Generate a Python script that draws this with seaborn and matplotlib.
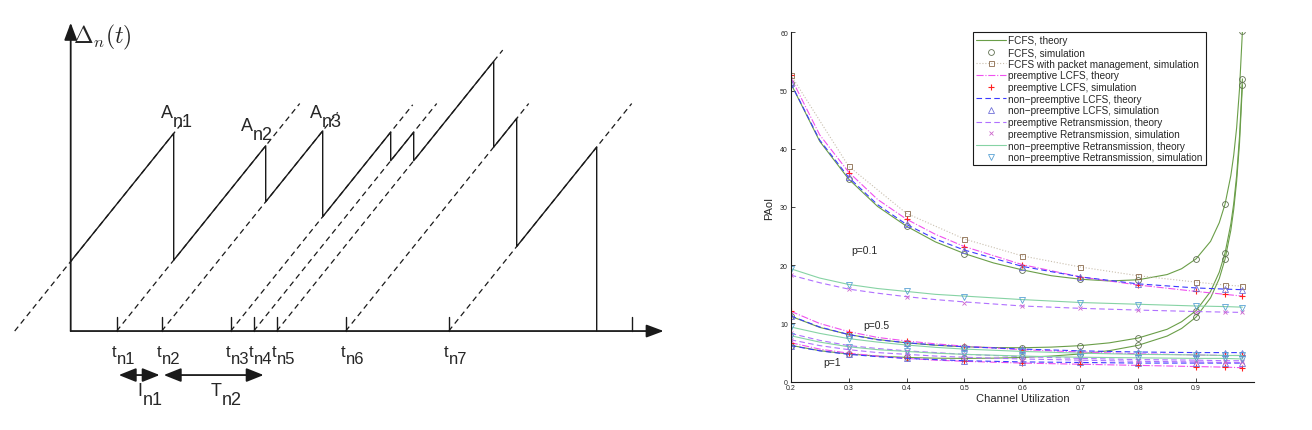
import numpy as np
import pandas as pd
import matplotlib
matplotlib.use("Agg")
import matplotlib.pyplot as plt
import seaborn as sns

# ---------------- left: age sawtooth diagram ----------------
# generation times t_n0..t_n7 (t_n0 lies left of the y-axis) and delivery times
GEN_TIMES = [-56, 46, 91, 160, 183, 206, 275, 378]
DEP_TIMES = [103, 195, 252, 320, 343, 423, 446, 526]
DASH_END = [114, 229, 267, 342, 366, 432, 458, 561]
EXTRA_TICK = 561
GEN_LABELS = ["n1", "n2", "n3", "n4", "n5", "n6", "n7"]
PEAK_LABELS = ["n1", "n2", "n3"]
PEAK_POS = [(90, 183), (170, 172), (239, 183)]

# ---------------- right: PAoI vs channel utilization ----------------
P_VALUES = [0.1, 0.5, 1]
SIM_X = [0.2, 0.3, 0.4, 0.5, 0.6, 0.7, 0.8, 0.9, 0.95, 0.98]
THEORY_X = [0.2, 0.25, 0.3, 0.35, 0.4, 0.45, 0.5, 0.6, 0.7, 0.8, 0.9, 0.95, 0.98]
FCFS_X = [0.2, 0.25, 0.3, 0.35, 0.4, 0.45, 0.5, 0.55, 0.6, 0.65, 0.7, 0.75, 0.8,
          0.85, 0.875, 0.9, 0.925, 0.94, 0.95, 0.96, 0.965, 0.97, 0.975, 0.98]

fcfs_theory = {
    0.1: [51.25, 41.3, 34.8, 30.1, 26.7, 24.0, 22.0, 20.4, 19.2, 18.2, 17.6, 17.3,
          17.5, 18.4, 19.4, 21.1, 24.1, 27.3, 30.5, 35.4, 38.9, 43.6, 50.3, 60.2],
    0.5: [11.25, 9.33, 8.1, 7.25, 6.67, 6.26, 6.0, 5.86, 5.83, 5.94, 6.19, 6.67,
          7.5, 9.0, 10.3, 12.2, 15.5, 18.8, 22.1, 27.1, 30.6, 35.4, 42.1, 52.0],
    1: [6.25, 5.33, 4.76, 4.4, 4.17, 4.04, 4.0, 4.04, 4.17, 4.4, 4.76, 5.33,
        6.25, 7.84, 9.14, 11.1, 14.4, 17.7, 21.05, 26.0, 29.6, 34.4, 41.0, 51.0],
}
fcfs_sim = {
    0.1: [51.3, 34.8, 26.7, 22.0, 19.2, 17.6, 17.5, 21.1, 30.5, 60.2],
    0.5: [11.3, 8.1, 6.7, 6.0, 5.8, 6.2, 7.5, 12.2, 22.1, 52.0],
    1: [6.2, 4.7, 4.2, 4.0, 4.2, 4.8, 6.3, 11.1, 21.1, 51.0],
}
pm_sim = {
    0.1: [52.7, 37.0, 28.9, 24.5, 21.6, 19.7, 18.2, 17.1, 16.6, 16.4],
}
plcfs_theory = {
    0.1: [52.3, 42.4, 36.0, 31.3, 27.9, 25.3, 23.2, 20.1, 18.0, 16.6, 15.5, 15.0, 14.7],
    0.5: [12.1, 10.0, 8.6, 7.6, 7.0, 6.5, 6.1, 5.5, 5.1, 4.8, 4.6, 4.5, 4.5],
    1: [6.7, 5.6, 4.9, 4.4, 4.0, 3.7, 3.5, 3.2, 3.0, 2.8, 2.6, 2.5, 2.4],
}
plcfs_sim = {
    0.1: [52.6, 35.9, 27.9, 23.1, 20.0, 18.0, 16.6, 15.5, 15.0, 14.7],
    0.5: [12.1, 8.6, 7.0, 6.1, 5.5, 5.1, 4.8, 4.6, 4.5, 4.5],
    1: [6.7, 4.9, 4.0, 3.5, 3.2, 3.0, 2.8, 2.6, 2.5, 2.4],
}
nplcfs_theory = {
    0.1: [51.3, 41.5, 35.1, 30.4, 27.0, 24.5, 22.6, 19.8, 18.0, 16.8, 16.1, 15.9, 15.8],
    0.5: [11.3, 9.4, 8.1, 7.2, 6.7, 6.3, 6.0, 5.6, 5.3, 5.1, 5.0, 5.0, 5.0],
    1: [6.2, 5.3, 4.7, 4.3, 4.0, 3.8, 3.6, 3.4, 3.3, 3.2, 3.2, 3.2, 3.2],
}
nplcfs_sim = {
    0.1: [51.3, 35.2, 27.0, 22.6, 19.7, 17.9, 16.8, 16.1, 16.0, 15.8],
    0.5: [11.3, 8.1, 6.7, 6.0, 5.6, 5.3, 5.1, 5.0, 5.0, 5.0],
    1: [6.2, 4.7, 4.0, 3.6, 3.4, 3.3, 3.2, 3.2, 3.2, 3.2],
}
pr_theory = {
    0.1: [18.3, 17.0, 15.9, 15.2, 14.6, 14.1, 13.7, 13.0, 12.6, 12.3, 12.05, 11.95, 11.9],
    0.5: [8.3, 7.1, 6.2, 5.7, 5.3, 5.0, 4.7, 4.3, 4.0, 3.8, 3.7, 3.6, 3.6],
    1: [7.2, 6.2, 5.5, 5.0, 4.7, 4.4, 4.2, 3.9, 3.7, 3.5, 3.4, 3.3, 3.3],
}
pr_sim = {
    0.1: [18.3, 15.9, 14.6, 13.6, 13.0, 12.6, 12.3, 12.05, 11.9, 11.9],
    0.5: [8.3, 6.2, 5.3, 4.7, 4.3, 4.0, 3.8, 3.7, 3.6, 3.6],
    1: [7.2, 5.5, 4.7, 4.2, 3.9, 3.7, 3.5, 3.4, 3.3, 3.3],
}
npr_theory = {
    0.1: [19.4, 17.8, 16.7, 16.0, 15.5, 15.0, 14.7, 14.1, 13.6, 13.3, 13.0, 12.9, 12.8],
    0.5: [9.4, 8.3, 7.4, 6.8, 6.3, 5.9, 5.6, 5.2, 4.9, 4.7, 4.6, 4.5, 4.5],
    1: [7.9, 6.8, 6.0, 5.5, 5.2, 4.9, 4.7, 4.4, 4.2, 4.1, 4.0, 4.0, 3.9],
}
npr_sim = {
    0.1: [19.4, 16.6, 15.5, 14.6, 14.0, 13.6, 13.2, 13.0, 12.9, 12.7],
    0.5: [9.4, 7.4, 6.3, 5.6, 5.2, 4.9, 4.7, 4.6, 4.5, 4.5],
    1: [7.9, 6.0, 5.2, 4.7, 4.4, 4.2, 4.1, 4.0, 4.0, 3.9],
}

SERIES = [
    ("FCFS, theory", FCFS_X, fcfs_theory,
     dict(color="#6a9e48", linestyle="-", lw=0.8)),
    ("FCFS, simulation", SIM_X, fcfs_sim,
     dict(color="#5f6f50", linestyle="", marker="o", markersize=4.2,
          markerfacecolor="none", markeredgecolor="#5f6f50", mew=0.6)),
    ("FCFS with packet management, simulation", SIM_X, pm_sim,
     dict(color="#c9bfae", linestyle=":", lw=0.8, marker="s", markersize=3.6,
          markerfacecolor="none", markeredgecolor="#8a6a4c", mew=0.6)),
    ("preemptive LCFS, theory", THEORY_X, plcfs_theory,
     dict(color="#f050f0", linestyle="-.", lw=0.8)),
    ("preemptive LCFS, simulation", SIM_X, plcfs_sim,
     dict(color="#ff2020", linestyle="", marker="+", markersize=5,
          markeredgecolor="#ff2020", mew=0.8)),
    ("non\u2212preemptive LCFS, theory", THEORY_X, nplcfs_theory,
     dict(color="#3a3aff", linestyle=(0, (5, 3)), lw=0.8)),
    ("non\u2212preemptive LCFS, simulation", SIM_X, nplcfs_sim,
     dict(color="#7070d8", linestyle="", marker="^", markersize=4.2,
          markerfacecolor="none", markeredgecolor="#7070d8", mew=0.6)),
    ("preemptive Retransmission, theory", THEORY_X, pr_theory,
     dict(color="#b070ff", linestyle=(0, (5, 3)), lw=0.8)),
    ("preemptive Retransmission, simulation", SIM_X, pr_sim,
     dict(color="#cc66cc", linestyle="", marker="x", markersize=3.5,
          markeredgecolor="#cc66cc", mew=0.6)),
    ("non\u2212preemptive Retransmission, theory", THEORY_X, npr_theory,
     dict(color="#86d3a4", linestyle="-", lw=0.8)),
    ("non\u2212preemptive Retransmission, simulation", SIM_X, npr_sim,
     dict(color="#5aa2d4", linestyle="", marker="v", markersize=4.2,
          markerfacecolor="none", markeredgecolor="#5aa2d4", mew=0.6)),
]

P_TEXT = [("p=0.1", 0.327, 22.6), ("p=0.5", 0.348, 9.7), ("p=1", 0.272, 3.4)]

sns.set_theme(style="white")
plt.rcParams["font.family"] = ["Liberation Sans", "DejaVu Sans"]
NARROW = ["Liberation Sans Narrow", "Liberation Sans", "DejaVu Sans"]

fig = plt.figure(figsize=(13.12, 4.31), dpi=100)

# ---------- diagram ----------
ax = fig.add_axes([0, 0, 680 / 1312, 1])
ax.set_xlim(-70.7, 609.3)
ax.set_ylim(-79.6, 267.1)
ax.axis("off")

# dashed generation lines (slope 1: age grows with time)
for g, e in zip(GEN_TIMES, DASH_END):
    sns.lineplot(x=[g, e], y=[0, e - g], ax=ax, color="k", lw=0.9,
                 linestyle=(0, (4.5, 3.2)), estimator=None, sort=False)

# sawtooth age curve
saw_t, saw_a = [0], [0 - GEN_TIMES[0]]
for i, d in enumerate(DEP_TIMES):
    saw_t += [d, d]
    nxt = GEN_TIMES[i + 1] if i + 1 < len(GEN_TIMES) else d
    saw_a += [d - GEN_TIMES[i], d - nxt]
sns.lineplot(x=saw_t, y=saw_a, ax=ax, color="k", lw=1.0, estimator=None, sort=False)

# axes with arrows
arrow = dict(arrowstyle="-|>,head_length=0.75,head_width=0.28", color="k", lw=1.3,
             shrinkA=0, shrinkB=0, mutation_scale=14)
ax.annotate("", xy=(0, 248), xytext=(0, 0), arrowprops=arrow)
ax.annotate("", xy=(593, 0), xytext=(0, 0), arrowprops=arrow)

for g in GEN_TIMES[1:] + [EXTRA_TICK]:
    ax.plot([g, g], [0, 11.3], color="k", lw=1.0)


def sub_text(x, y, main, sub, size=13, drop=6.5):
    t = ax.text(x, y, main, fontsize=size, ha="left", va="top", family=NARROW)
    ax.annotate(sub, xy=(1, 0), xycoords=t, xytext=(0.1, -drop),
                textcoords="offset points", fontsize=size, ha="left",
                va="bottom", family=NARROW)


for g, lab in zip(GEN_TIMES[1:], GEN_LABELS):
    sub_text(g - 5, -10.5, "t", lab, size=12, drop=5.0)
for (x, y), lab in zip(PEAK_POS, PEAK_LABELS):
    sub_text(x, y, "A", lab, size=13, drop=6.5)

ax.text(2.5, 232.5, r"$\Delta_n(t)$", fontsize=17, math_fontfamily="cm",
        ha="left", va="baseline")

both = dict(arrowstyle="<|-|>,head_length=0.75,head_width=0.3", color="k", lw=1.3,
            shrinkA=1.5, shrinkB=1.5, mutation_scale=14)
ax.annotate("", xy=(GEN_TIMES[2], -35.4), xytext=(GEN_TIMES[1], -35.4), arrowprops=both)
ax.annotate("", xy=(DEP_TIMES[1], -35.4), xytext=(GEN_TIMES[2], -35.4), arrowprops=both)
sub_text(67, -41, "I", "n1", size=13, drop=6.5)
sub_text(140, -41, "T", "n2", size=13, drop=6.5)

# ---------- PAoI chart ----------
ax2 = fig.add_axes([790.7 / 1312, 1 - 382.7 / 431, (1254 - 790.7) / 1312,
                    (382.7 - 33.3) / 431])
for name, xs, data, style in SERIES:
    for p in P_VALUES:
        if p not in data:
            continue
        sns.lineplot(x=xs, y=data[p], ax=ax2, estimator=None, sort=False,
                     label=name if p == P_VALUES[0] else "_nolegend_", **style)

for txt, x, y in P_TEXT:
    ax2.text(x, y, txt, fontsize=7.5, ha="center", va="center")

ax2.set_xlim(0.2, 1.0)
ax2.set_ylim(0, 60)
ax2.set_xticks([0.2, 0.3, 0.4, 0.5, 0.6, 0.7, 0.8, 0.9])
ax2.set_xticklabels(["0.2", "0.3", "0.4", "0.5", "0.6", "0.7", "0.8", "0.9"])
ax2.set_yticks([0, 10, 20, 30, 40, 50, 60])
ax2.tick_params(direction="in", length=3, width=0.6, labelsize=5, pad=2,
                bottom=True, left=True)
for side in ["top", "right"]:
    ax2.spines[side].set_visible(False)
for side in ["left", "bottom"]:
    ax2.spines[side].set_color("k")
    ax2.spines[side].set_linewidth(0.8)
ax2.set_xlabel("Channel Utilization", fontsize=8, labelpad=1)
ax2.set_ylabel("PAoI", fontsize=8, labelpad=4)
ax2.grid(False)

leg = ax2.legend(loc="upper left", bbox_to_anchor=((973 - 790.7) / 463.3, 1.0),
                 fontsize=7.2, frameon=True, fancybox=False, framealpha=1,
                 edgecolor="k", handlelength=3.0, handletextpad=0.25,
                 labelspacing=0.17, borderpad=0.3, borderaxespad=0, numpoints=1)
leg.get_frame().set_linewidth(0.8)

fig.savefig("out.png", dpi=100)
